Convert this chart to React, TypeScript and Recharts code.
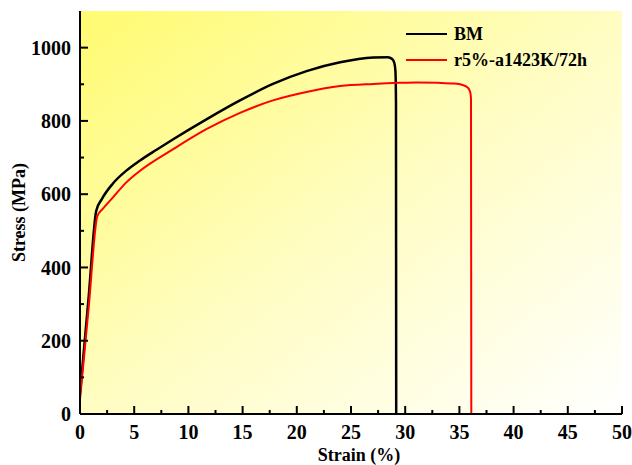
import React from "react";
import {
  LineChart,
  Line,
  XAxis,
  YAxis,
  CartesianGrid,
} from "recharts";

// BM curve (strain %, stress MPa)
const bmStrain = [0, 0.8, 1.5, 2.0, 3, 4.3, 5.54, 7.1, 8.6, 11.7, 14.76, 17.8, 20.9, 24, 27.06, 28.4, 28.8, 29.0, 29.1, 29.15, 29.17];
const bmStress = [55, 320, 555, 586, 628, 665, 692, 722, 750, 805, 856, 901, 936, 960, 973, 974, 969, 958, 935, 850, 0];

// r5%-a1423K/72h curve
const r5Strain = [0, 0.8, 1.6, 2.1, 3, 4.3, 5.54, 8.6, 11.7, 14.76, 17.8, 20.9, 24, 27.06, 29.5, 31, 33, 34.5, 35.3, 35.8, 36.0, 36.07, 36.1];
const r5Stress = [40, 290, 540, 560, 590, 633, 664, 723, 778, 822, 856, 879, 895, 901, 904, 905, 904, 902, 898, 890, 878, 860, 0];

const xTicks = [0, 2.5, 5, 7.5, 10, 12.5, 15, 17.5, 20, 22.5, 25, 27.5, 30, 32.5, 35, 37.5, 40, 42.5, 45, 47.5, 50];
const yTicks = [0, 100, 200, 300, 400, 500, 600, 700, 800, 900, 1000];

const seriesNames = ["BM", "r5%-a1423K/72h"];
const seriesColors = ["#000000", "#ff0000"];

const bmData = bmStrain.map((s, i) => ({ strain: s, stress: bmStress[i] }));
const r5Data = r5Strain.map((s, i) => ({ strain: s, stress: r5Stress[i] }));

const FONT = "'Liberation Serif', 'Times New Roman', serif";

const XTick = ({ x, y, payload }: any) => {
  const major = payload.value % 5 === 0;
  return (
    <g>
      <line x1={x} y1={y} x2={x} y2={y - (major ? 8 : 4)} stroke="#000" strokeWidth={2} />
      {major && (
        <text x={x} y={y + 11} dy="0.71em" textAnchor="middle" fontFamily={FONT} fontWeight="bold" fontSize={20} fill="#000">
          {payload.value}
        </text>
      )}
    </g>
  );
};

const YTick = ({ x, y, payload }: any) => {
  const major = payload.value % 200 === 0;
  return (
    <g>
      <line x1={x} y1={y} x2={x + (major ? 8 : 4)} y2={y} stroke="#000" strokeWidth={2} />
      {major && (
        <text x={x - 9} y={y} dy="0.36em" textAnchor="end" fontFamily={FONT} fontWeight="bold" fontSize={20} fill="#000">
          {payload.value}
        </text>
      )}
    </g>
  );
};

const ChartLegend = () => (
  <svg width={220} height={52} style={{ position: "absolute", top: 22, left: 406 }}>
    {seriesNames.map((name, i) => (
      <g key={name}>
        <line x1={0} x2={41} y1={12 + i * 26} y2={12 + i * 26} stroke={seriesColors[i]} strokeWidth={2} />
        <text x={48} y={12 + i * 26} dy="0.35em" fontFamily={FONT} fontWeight="bold" fontSize={18} fill="#000">
          {name}
        </text>
      </g>
    ))}
  </svg>
);

const YLabel = ({ viewBox }: any) => {
  const cy = viewBox.y + viewBox.height / 2;
  return (
    <text x={25} y={cy} transform={`rotate(-90, 25, ${cy})`} textAnchor="middle" fontFamily={FONT} fontWeight="bold" fontSize={18} fill="#000">
      Stress (MPa)
    </text>
  );
};

export default function App() {
  return (
    <div style={{ position: "fixed", top: 0, left: 0, width: 632, height: 465, background: "#fff" }}>
      <LineChart width={632} height={465} margin={{ top: 11, right: 10, left: 0, bottom: 0 }} style={{ overflow: "visible" }}>
        <defs>
          <linearGradient id="bg" x1="0" y1="0" x2="1" y2="1">
            <stop offset="0%" stopColor="#fffb70" />
            <stop offset="52%" stopColor="#fffdc4" />
            <stop offset="100%" stopColor="#ffffff" />
          </linearGradient>
        </defs>
        <CartesianGrid horizontal={false} vertical={false} fill="url(#bg)" fillOpacity={1} />
        <XAxis
          dataKey="strain"
          type="number"
          domain={[0, 50]}
          ticks={xTicks}
          interval={0}
          height={51}
          tickSize={0}
          tickMargin={0}
          tickLine={false}
          tick={<XTick />}
          axisLine={{ stroke: "#000", strokeWidth: 2 }}
          allowDataOverflow
          label={{ value: "Strain (%)", position: "insideBottom", offset: 4, dx: 8, fontFamily: FONT, fontWeight: "bold", fontSize: 18, fill: "#000" }}
        />
        <XAxis xAxisId="top" orientation="top" type="number" domain={[0, 50]} height={0} tick={false} tickLine={false} axisLine={{ stroke: "#000", strokeWidth: 2 }} />
        <YAxis
          type="number"
          domain={[0, 1100]}
          ticks={yTicks}
          interval={0}
          width={80}
          tickSize={0}
          tickMargin={0}
          tickLine={false}
          tick={<YTick />}
          axisLine={{ stroke: "#000", strokeWidth: 2 }}
          allowDataOverflow
          label={<YLabel />}
        />
        <YAxis yAxisId="right" orientation="right" type="number" domain={[0, 1100]} width={0} tick={false} tickLine={false} axisLine={{ stroke: "#000", strokeWidth: 2 }} />
        <Line data={bmData} dataKey="stress" name={seriesNames[0]} type="monotone" stroke={seriesColors[0]} strokeWidth={2.5} dot={false} isAnimationActive={false} />
        <Line data={r5Data} dataKey="stress" name={seriesNames[1]} type="monotone" stroke={seriesColors[1]} strokeWidth={2} dot={false} isAnimationActive={false} />
      </LineChart>
      <ChartLegend />
    </div>
  );
}
